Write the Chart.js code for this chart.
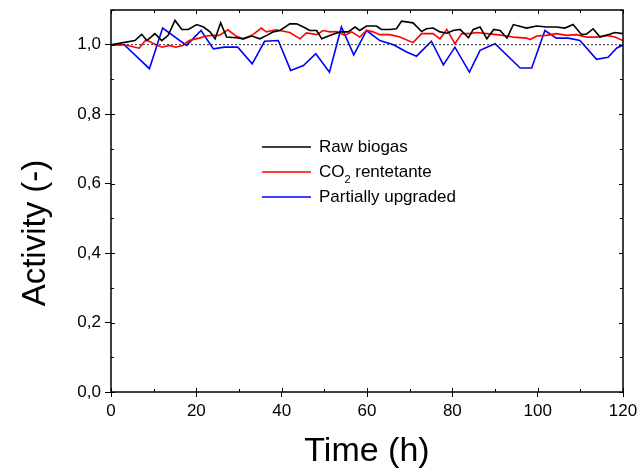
<!DOCTYPE html>
<html>
<head>
<meta charset="utf-8">
<script src="https://cdn.jsdelivr.net/npm/chart.js@4/dist/chart.umd.min.js"></script>
<style>
  html, body { margin: 0; padding: 0; background: #fff; }
  #wrap { width: 640px; height: 472px; }
</style>
</head>
<body>
<div id="wrap"><canvas id="myChart" width="640" height="472"></canvas></div>
<script>
// DATA
var rawTime = [0, 2.9, 5.6, 7.2, 8.4, 10.3, 11.9, 13.4, 15.0, 16.6, 18.1, 20.1, 21.7, 23.2, 24.4, 25.7, 27.1, 29.4, 31.0, 33.0, 34.9, 36.5, 38.0, 39.6, 41.9, 43.5, 45.1, 46.6, 48.2, 49.4, 51.7, 53.7, 55.6, 57.2, 58.3, 59.9, 62.2, 63.4, 65.4, 66.9, 68.1, 70.8, 72.8, 73.9, 75.5, 77.1, 78.7, 80.2, 81.8, 83.8, 84.9, 86.5, 88.1, 89.7, 91.2, 92.8, 94.3, 97.4, 99.8, 102.1, 104.4, 106.4, 108.3, 110.3, 111.5, 113.0, 114.6, 116.5, 118.1, 120];
var rawBiogas = [1.0, 1.006, 1.012, 1.03, 1.012, 1.032, 1.012, 1.027, 1.07, 1.044, 1.044, 1.058, 1.051, 1.037, 1.017, 1.063, 1.022, 1.02, 1.017, 1.025, 1.017, 1.027, 1.037, 1.041, 1.06, 1.06, 1.051, 1.041, 1.041, 1.017, 1.029, 1.037, 1.037, 1.051, 1.041, 1.054, 1.054, 1.044, 1.044, 1.046, 1.068, 1.063, 1.038, 1.046, 1.048, 1.037, 1.033, 1.041, 1.044, 1.02, 1.044, 1.051, 1.017, 1.044, 1.041, 1.019, 1.058, 1.048, 1.054, 1.051, 1.051, 1.048, 1.058, 1.029, 1.031, 1.046, 1.022, 1.029, 1.035, 1.032];

var co2Time = [0, 3.1, 6.6, 8.2, 10.5, 12.0, 13.6, 15.2, 16.8, 18.3, 20.7, 22.3, 23.8, 25.4, 27.4, 29.3, 30.9, 33.3, 35.2, 36.4, 38.7, 41.9, 44.3, 45.8, 48.2, 49.7, 51.3, 52.8, 54.8, 56.4, 58.3, 59.9, 61.4, 63.0, 65.4, 67.7, 70.8, 72.8, 75.5, 77.1, 78.7, 80.6, 82.2, 84.1, 85.7, 88.1, 90.4, 92.8, 94.3, 97.4, 98.2, 99.8, 102.1, 104.4, 106.8, 109.1, 111.5, 113.9, 116.2, 118.1, 120];
var co2Retentate = [1.0, 1.0, 0.99, 1.014, 1.0, 0.993, 0.998, 0.993, 0.998, 1.012, 1.019, 1.025, 1.027, 1.027, 1.043, 1.025, 1.017, 1.029, 1.048, 1.037, 1.043, 1.035, 1.017, 1.034, 1.029, 1.041, 1.037, 1.038, 1.027, 1.037, 1.022, 1.041, 1.037, 1.029, 1.029, 1.022, 1.006, 1.032, 1.032, 1.017, 1.044, 1.003, 1.032, 1.032, 1.035, 1.032, 1.029, 1.025, 1.022, 1.019, 1.015, 1.025, 1.027, 1.032, 1.027, 1.029, 1.022, 1.022, 1.027, 1.022, 1.012];

var upgTime = [0, 3.1, 9.0, 12.1, 17.7, 21.1, 24.0, 26.6, 29.7, 33.1, 36.0, 39.2, 42.1, 45.1, 48.0, 51.2, 54.0, 56.9, 59.9, 63.0, 66.2, 69.3, 71.6, 75.1, 77.9, 80.6, 84.0, 86.5, 90.0, 95.9, 98.6, 101.7, 104.4, 107.2, 109.9, 113.8, 116.5, 118.5, 120];
var partiallyUpgraded = [1.0, 1.0, 0.931, 1.048, 0.998, 1.041, 0.988, 0.993, 0.993, 0.945, 1.01, 1.012, 0.926, 0.94, 0.974, 0.921, 1.051, 0.971, 1.041, 1.012, 1.0, 0.979, 0.967, 1.01, 0.942, 0.993, 0.921, 0.984, 1.003, 0.933, 0.933, 1.041, 1.019, 1.019, 1.012, 0.958, 0.964, 0.99, 1.0];

var refLevel = 1.0;
var seriesNames = ["Raw biogas", "CO2 rentetante", "Partially upgraded"];
var seriesColors = ["#000000", "#ff0000", "#0000ff"];
var yTitle = "Activity (-)";

var FONT = "'Liberation Sans', Arial, sans-serif";

function pairs(xs, ys) {
  var out = [];
  for (var i = 0; i < xs.length; i++) out.push({ x: xs[i], y: ys[i] });
  return out;
}

function isMajorX(v) { return Math.round(v) % 20 === 0; }
function isMajorY(v) { return Math.round(v * 10) % 2 === 0; }

// frame, inward ticks on every side, y title, legend
var framePlugin = {
  id: "frame",
  afterDraw: function (chart) {
    var ctx = chart.ctx;
    var a = chart.chartArea;
    var xs = chart.scales.x, ys = chart.scales.y;
    ctx.save();
    ctx.strokeStyle = "#000";
    ctx.lineWidth = 1.5;
    ctx.strokeRect(a.left, a.top, a.right - a.left, a.bottom - a.top);
    ctx.lineWidth = 1;
    ys.ticks.forEach(function (t) {
      var p = Math.round(ys.getPixelForValue(t.value)) + 0.5;
      var len = isMajorY(t.value) ? 4 : 3;
      ctx.beginPath(); ctx.moveTo(a.right, p); ctx.lineTo(a.right - len, p); ctx.stroke();
      ctx.beginPath(); ctx.moveTo(a.left, p); ctx.lineTo(a.left + len, p); ctx.stroke();
    });
    xs.ticks.forEach(function (t) {
      var p = Math.round(xs.getPixelForValue(t.value)) + 0.5;
      var len = isMajorX(t.value) ? 4 : 3;
      ctx.beginPath(); ctx.moveTo(p, a.top); ctx.lineTo(p, a.top + len); ctx.stroke();
      ctx.beginPath(); ctx.moveTo(p, a.bottom); ctx.lineTo(p, a.bottom - len); ctx.stroke();
    });

    // y axis title (sits a bit below the plot centre in the original)
    ctx.save();
    ctx.translate(45, 233);
    ctx.rotate(-Math.PI / 2);
    ctx.font = "33px " + FONT;
    ctx.fillStyle = "#000";
    ctx.textAlign = "center";
    ctx.textBaseline = "alphabetic";
    ctx.fillText(yTitle, 0, 0);
    ctx.restore();

    // legend
    var lx = 262, ly = 147, gap = 25;
    ctx.font = "17px " + FONT;
    ctx.textBaseline = "middle";
    ctx.fillStyle = "#000";
    for (var i = 0; i < seriesNames.length; i++) {
      var y = ly + i * gap;
      ctx.strokeStyle = seriesColors[i];
      ctx.lineWidth = 1.5;
      ctx.beginPath(); ctx.moveTo(lx, y); ctx.lineTo(lx + 49, y); ctx.stroke();
      if (i === 1) {
        ctx.fillText("CO", lx + 57, y);
        var w = ctx.measureText("CO").width;
        ctx.font = "11px " + FONT;
        ctx.fillText("2", lx + 57 + w, y + 8);
        ctx.font = "17px " + FONT;
        ctx.fillText(" rentetante", lx + 57 + w + 6, y);
      } else {
        ctx.fillText(seriesNames[i], lx + 57, y);
      }
    }
    ctx.restore();
  }
};

function renderChart() {
  const data = {
    datasets: [
      {
        label: "ref",
        data: [{ x: 0, y: refLevel }, { x: 120, y: refLevel }],
        borderColor: "#000",
        borderWidth: 0.8,
        borderDash: [2, 2],
        pointRadius: 0
      },
      {
        label: seriesNames[0],
        data: pairs(rawTime, rawBiogas),
        borderColor: seriesColors[0],
        borderWidth: 1.6,
        pointRadius: 0
      },
      {
        label: seriesNames[1],
        data: pairs(co2Time, co2Retentate),
        borderColor: seriesColors[1],
        borderWidth: 1.6,
        pointRadius: 0
      },
      {
        label: seriesNames[2],
        data: pairs(upgTime, partiallyUpgraded),
        borderColor: seriesColors[2],
        borderWidth: 1.6,
        pointRadius: 0
      }
    ]
  };

  const tickFont = { family: FONT, size: 17 };

  const config = {
    type: "line",
    data: data,
    plugins: [framePlugin],
    options: {
      responsive: false,
      animation: false,
      layout: { padding: { top: 10, right: 17, left: 0, bottom: 0 } },
      plugins: { legend: { display: false }, tooltip: { enabled: false } },
      scales: {
        x: {
          type: "linear",
          min: 0,
          max: 120,
          ticks: {
            stepSize: 10,
            color: "#000",
            font: tickFont,
            padding: 4,
            maxRotation: 0,
            callback: function (v) { return isMajorX(v) ? String(v) : ""; }
          },
          grid: {
            drawOnChartArea: false,
            tickLength: 5,
            tickColor: function (c) { return c.tick && isMajorX(c.tick.value) ? "#000" : "rgba(0,0,0,0)"; }
          },
          border: { display: false },
          title: {
            display: true,
            text: "Time (h)",
            color: "#000",
            font: { family: FONT, size: 34 },
            padding: { top: 12, bottom: 0 }
          },
          afterFit: function (s) { s.height = 80; s.paddingLeft = 0; s.paddingRight = 0; }
        },
        y: {
          min: 0,
          max: 1.1,
          ticks: {
            stepSize: 0.1,
            color: "#000",
            font: tickFont,
            padding: 4,
            callback: function (v) {
              var k = Math.round(v * 10);
              if (k % 2 !== 0 || k > 10) return "";
              return (k / 10).toFixed(1).replace(".", ",");
            }
          },
          grid: {
            drawOnChartArea: false,
            tickLength: 6,
            tickColor: function (c) { return c.tick && isMajorY(c.tick.value) ? "#000" : "rgba(0,0,0,0)"; }
          },
          border: { display: false },
          title: { display: false },
          afterFit: function (s) { s.width = 111; s.paddingTop = 0; s.paddingBottom = 0; }
        }
      }
    }
  };

  const myChart = new Chart(document.getElementById("myChart"), config);
}
renderChart();
</script>
</body>
</html>
